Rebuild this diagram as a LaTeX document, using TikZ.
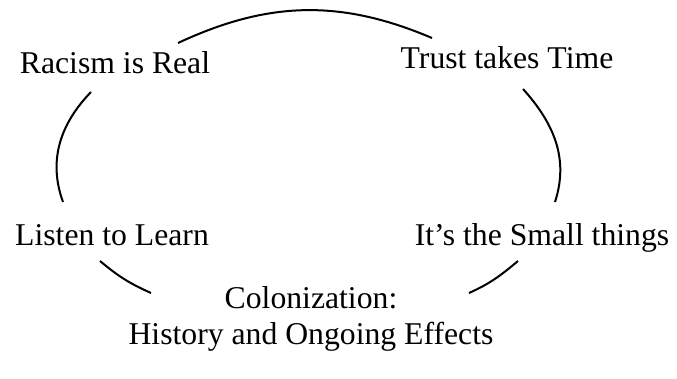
\documentclass[tikz,border=0pt]{standalone}
\usepackage{fontspec}
\setmainfont{Liberation Serif}

\begin{document}
\begin{tikzpicture}[
        x=1pt, y=1pt,
        lbl/.style={inner sep=0pt, anchor=base, align=center, font=\fontsize{31.7}{35.5}\selectfont},
        ring/.style={line width=2pt}
    ]
    \useasboundingbox (0,0) rectangle (677,379);
    \node [lbl] (racism) at (115,305) {Racism is Real};
    \node [lbl] (trust) at (507,310) {Trust takes Time};
    \node [lbl] (listen) at (112,133) {Listen to Learn};
    \node [lbl] (small) at (542,133) {It’s the Small things};
    \node [lbl, anchor=center] (colon) at (311,60) {Colonization:\\History and Ongoing Effects};
    % ends of the ring segments
    \coordinate (top1) at (178,336);
    \coordinate (top2) at (432,341);
    \coordinate (left1) at (91,287);
    \coordinate (left2) at (63,177);
    \coordinate (right1) at (523,290);
    \coordinate (right2) at (555,177);
    \coordinate (bl1) at (100,118);
    \coordinate (bl2) at (151,86);
    \coordinate (br1) at (518,118);
    \coordinate (br2) at (469,86);
    \draw[ring] (top1) to[out=25, in=157] (top2);
    \draw[ring] (left1) to[out=226, in=110] (left2);
    \draw[ring] (right1) to[out=-48, in=72] (right2);
    \draw[ring] (bl1) to[out=-40, in=156] (bl2);
    \draw[ring] (br1) to[out=220, in=24] (br2);
\end{tikzpicture}
\end{document}
